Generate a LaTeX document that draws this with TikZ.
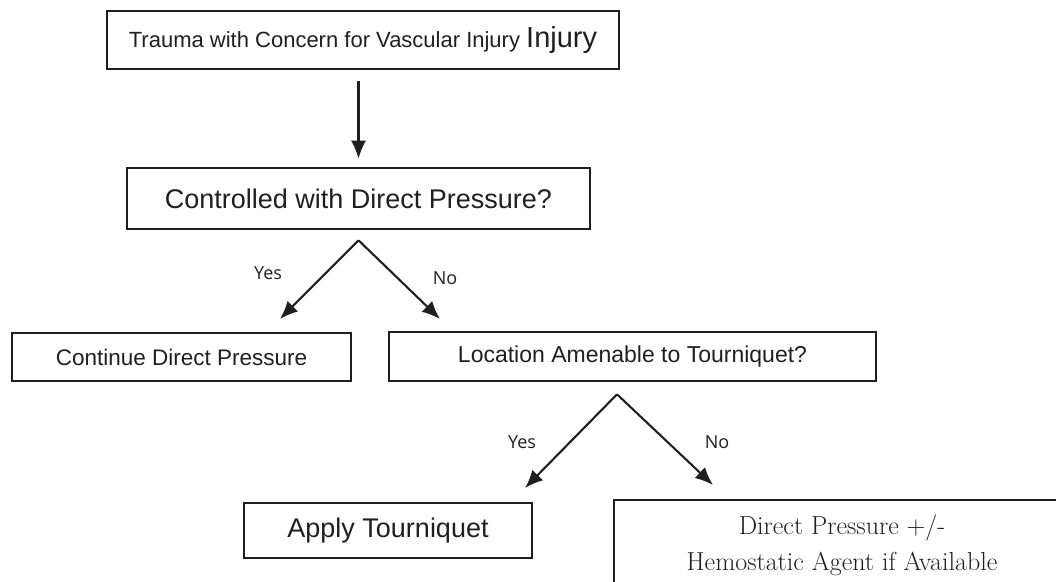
\documentclass[tikz,border=0pt]{standalone}
\usepackage{fontspec}
\newfontfamily\boxfont{Liberation Sans}
\newfontfamily\tagfont{Open Sans}
\usepackage{tikz}
\usetikzlibrary{calc}
\usetikzlibrary{arrows.meta}

\begin{document}
\begin{tikzpicture}[x=1pt,y=-1pt,
	box/.style={draw=black!88,text=black!88,line width=2.6pt,inner sep=0pt,align=center},
	arr/.style={draw=black!88,line width=2.1pt,-{Latex[length=18pt,width=15pt]}},
	tag/.style={font=\tagfont\fontsize{18}{20}\selectfont,text=black!88}]
	%%% page is measured in pixels of the reference, y runs down
	\useasboundingbox (0,0) rectangle (1056,581);
	\clip (0,0) rectangle (1056,581);

	%% Boxes
	\node[box,minimum width=512pt,minimum height=58pt] (trauma) at (363,40)
	  {\boxfont\fontsize{22}{26}\selectfont Trauma with Concern for Vascular Injury
	   {\fontsize{29}{32}\selectfont Injury}};
	\node[box,minimum width=463pt,minimum height=61pt] (ctrl) at (358.5,198.5)
	  {\boxfont\fontsize{27}{30}\selectfont Controlled with Direct Pressure?};
	\node[box,minimum width=339pt,minimum height=48pt] (cont) at (181.5,357)
	  {\boxfont\fontsize{22.5}{26}\selectfont Continue Direct Pressure};
	\node[box,minimum width=487pt,minimum height=49pt] (loc) at (632.5,356.5)
	  {\boxfont\fontsize{23}{26}\selectfont Location Amenable to Tourniquet?};
	\node[box,minimum width=288pt,minimum height=55pt] (apply) at (388,530.5)
	  {\boxfont\fontsize{27}{30}\selectfont Apply Tourniquet};
	% runs off the page on the right and at the bottom
	\node[box,minimum width=456pt,minimum height=90pt,
	  font=\fontsize{26}{36}\selectfont] (hemo) at (842,545)
	  {Direct Pressure +/-\\ Hemostatic Agent if Available};

	%% Forks under the two questions
	\coordinate (fork1) at ($(ctrl.south)+(0,10)$);
	\coordinate (yes1) at (280,319);
	\coordinate (no1) at (440,319);
	\coordinate (fork2) at ($(loc.south)+(-15.5,12)$);
	\coordinate (yes2) at (525,488);
	\coordinate (no2) at (713,485);

	%% Connectors
	\draw[arr,shorten <=11pt,shorten >=8pt] (ctrl.north |- trauma.south) -- (ctrl.north);
	\draw[arr] (fork1) -- (yes1);
	\draw[arr] (fork1) -- (no1);
	\draw[arr] (fork2) -- (yes2);
	\draw[arr] (fork2) -- (no2);

	%% Labels
	\node[tag] (y1) at (268,273) {Yes};
	\node[tag] (n1) at (445,278) {No};
	\node[tag] (y2) at (522,442) {Yes};
	\node[tag] (n2) at (717,442) {No};
\end{tikzpicture}
\end{document}
